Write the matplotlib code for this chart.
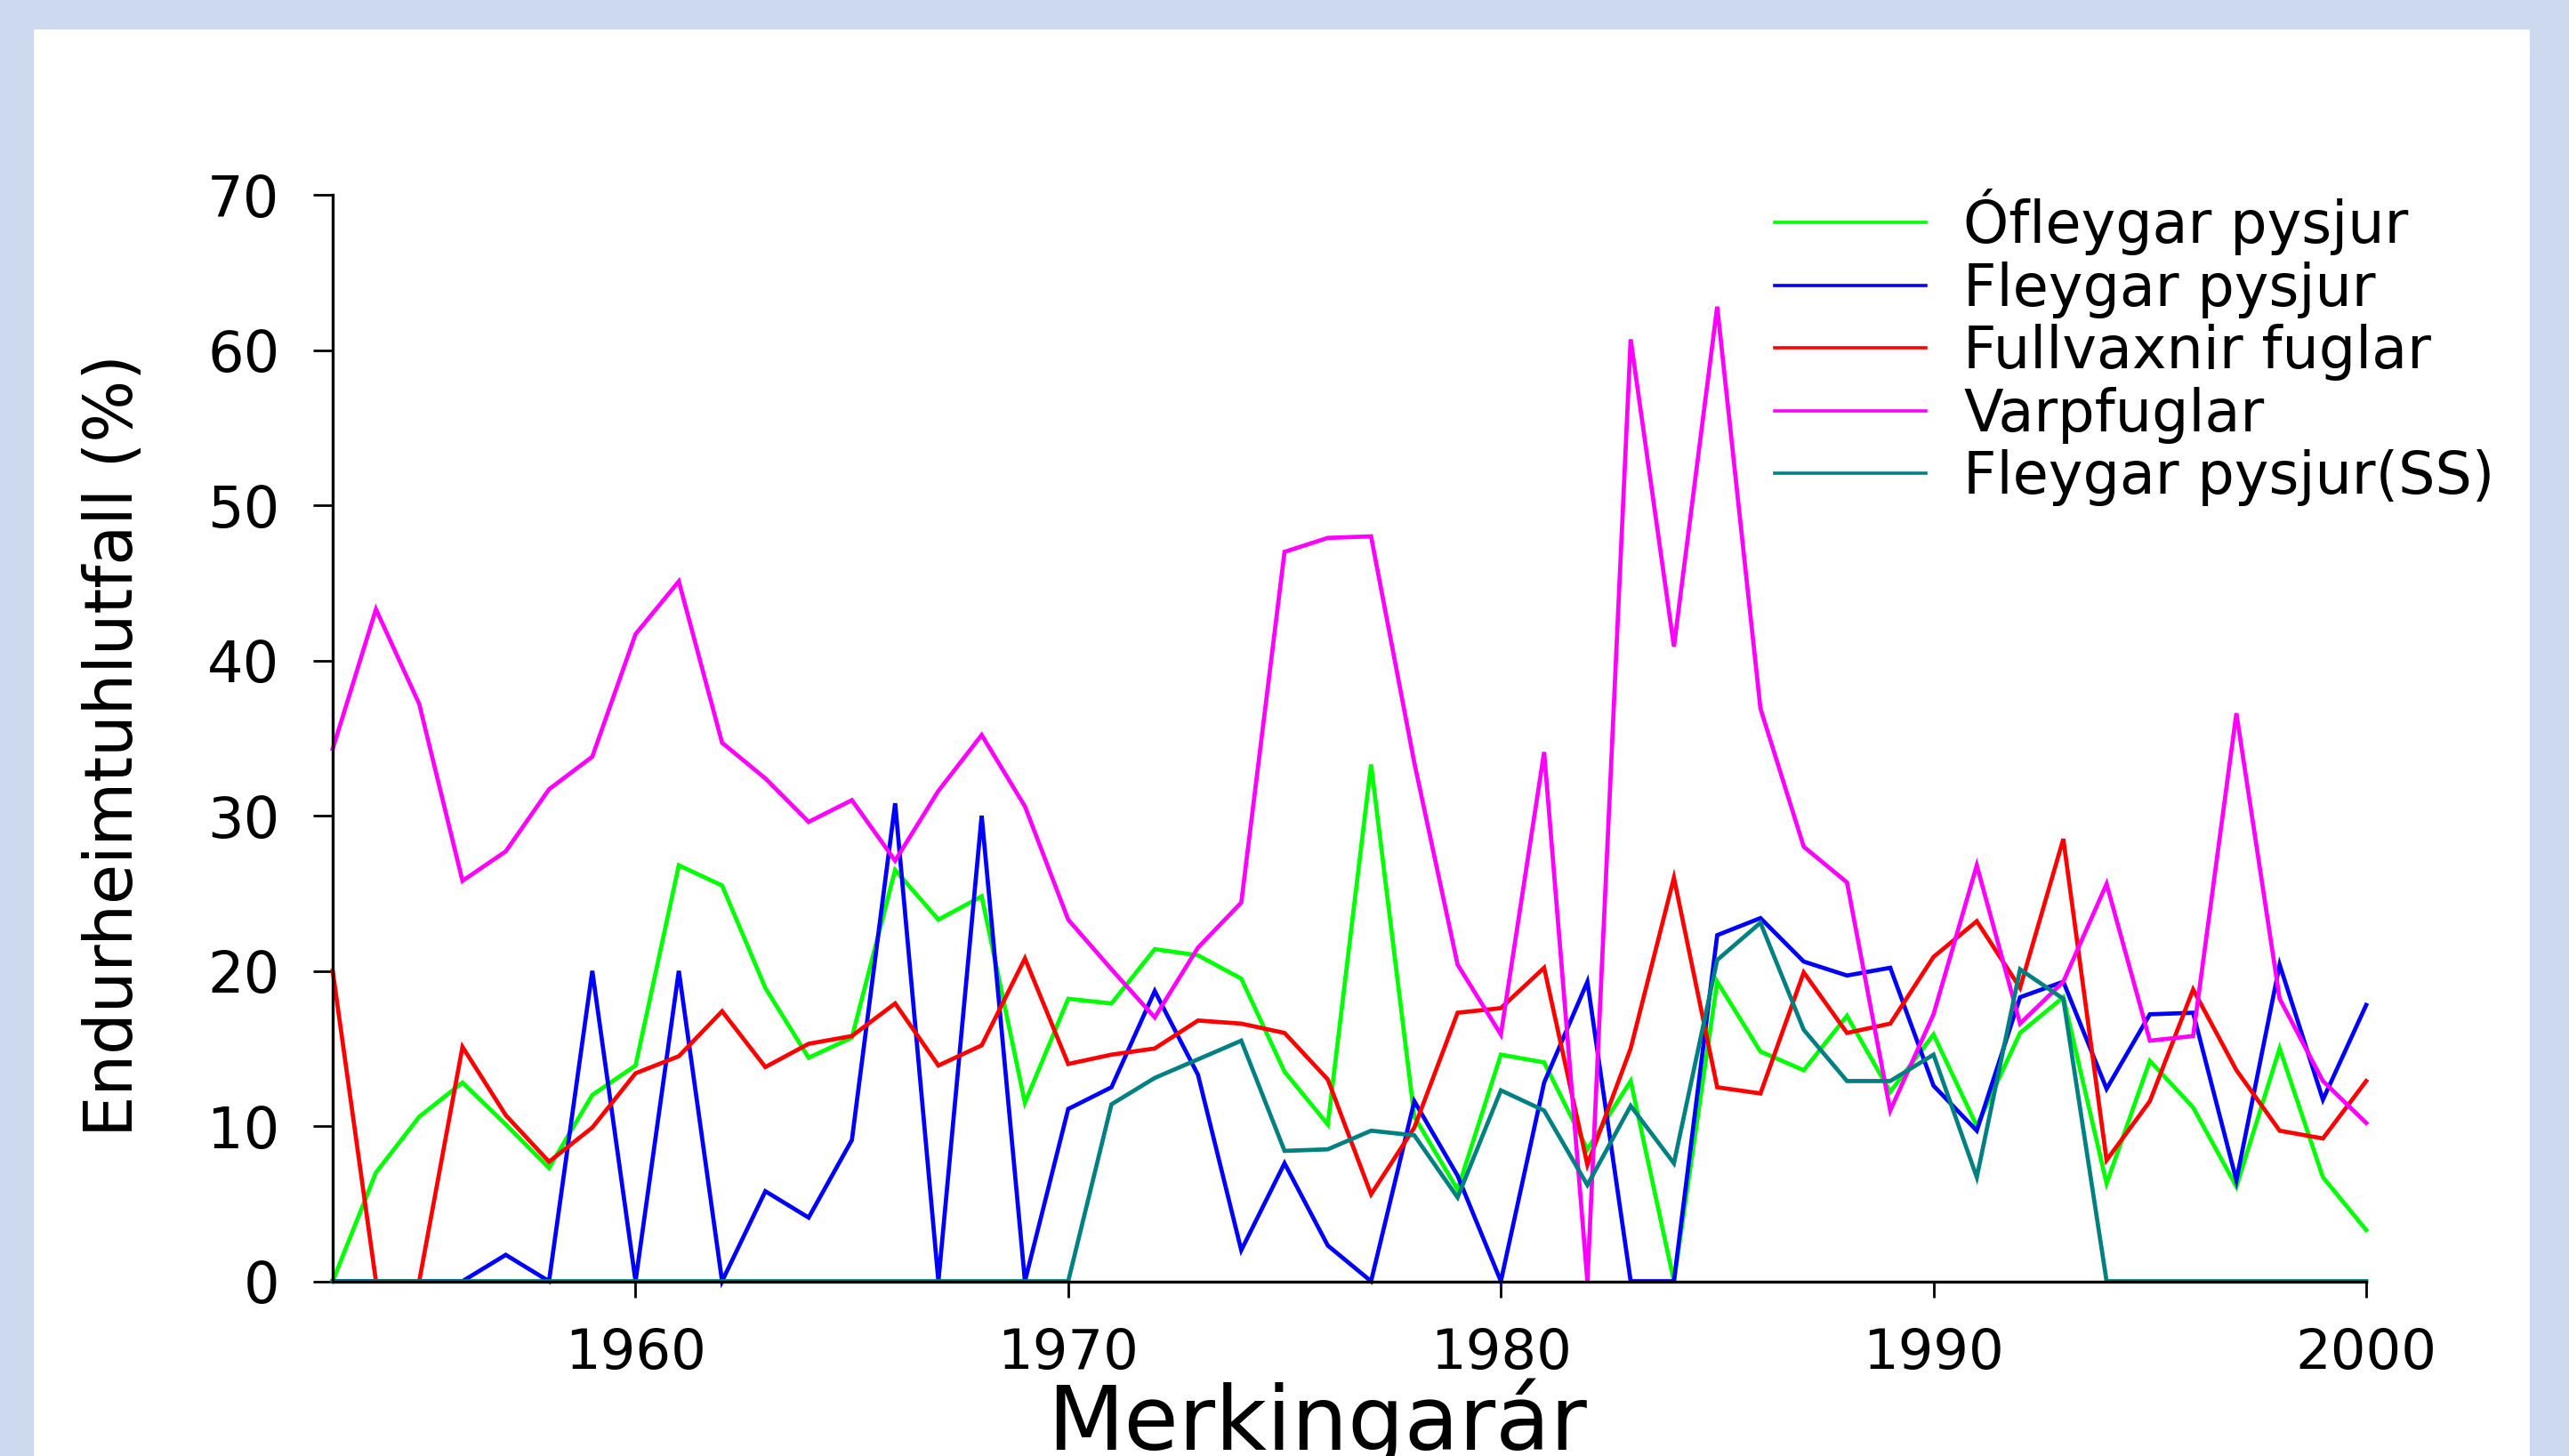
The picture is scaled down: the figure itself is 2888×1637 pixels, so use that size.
import matplotlib
matplotlib.use("Agg")
import matplotlib.pyplot as plt
from matplotlib.patches import Rectangle

years = list(range(1953, 2001))

ofleygar = [0, 7.0, 10.6, 12.8, 10.1, 7.3, 12.0, 13.9, 26.8, 25.5, 18.9, 14.4, 15.7,
            26.5, 23.3, 24.8, 11.5, 18.2, 17.9, 21.4, 21.0, 19.5, 13.5, 10.1, 33.3,
            10.6, 5.9, 14.6, 14.1, 8.5, 12.9, 0, 19.3, 14.8, 13.6, 17.1, 12.2,
            15.9, 10.0, 16.0, 18.3, 6.3, 14.2, 11.2, 6.1, 15.0, 6.7, 3.3]

fleygar = [0, 0, 0, 0, 1.7, 0, 20.0, 0, 20.0, 0, 5.8, 4.1, 9.1,
           30.8, 0, 30.0, 0, 11.1, 12.5, 18.7, 13.3, 2.0, 7.6, 2.3, 0,
           11.6, 6.8, 0, 12.8, 19.3, 0, 0, 22.3, 23.4, 20.6, 19.7, 20.2,
           12.6, 9.7, 18.3, 19.3, 12.4, 17.2, 17.3, 6.5, 20.4, 11.7, 17.8]

fullvaxnir = [20.0, 0, 0, 15.1, 10.7, 7.7, 9.9, 13.4, 14.5, 17.4, 13.8, 15.3, 15.8,
              17.9, 13.9, 15.2, 20.8, 14.0, 14.6, 15.0, 16.8, 16.6, 16.0, 13.0, 5.6,
              9.9, 17.3, 17.6, 20.2, 7.5, 15.0, 26.0, 12.5, 12.1, 19.9, 16.0, 16.6,
              20.9, 23.2, 18.9, 28.5, 7.8, 11.6, 18.8, 13.6, 9.7, 9.2, 12.9]

varpfuglar = [34.3, 43.3, 37.2, 25.8, 27.7, 31.7, 33.8, 41.7, 45.1, 34.7, 32.4, 29.6, 31.0,
              27.1, 31.6, 35.2, 30.6, 23.3, 20.1, 17.0, 21.5, 24.4, 47.0, 47.9, 48.0,
              33.4, 20.4, 15.9, 34.1, 0, 60.7, 40.9, 62.8, 36.9, 28.0, 25.7, 11.0,
              17.2, 26.8, 16.6, 19.3, 25.6, 15.5, 15.8, 36.6, 18.2, 12.9, 10.2]

fleygar_ss = [0, 0, 0, 0, 0, 0, 0, 0, 0, 0, 0, 0, 0, 0, 0, 0, 0, 0,
              11.4, 13.1, 14.3, 15.5, 8.4, 8.5, 9.7,
              9.4, 5.4, 12.3, 11.0, 6.2, 11.3, 7.6, 20.7, 23.1, 16.2, 12.9, 12.9,
              14.6, 6.7, 20.1, 18.2, 0, 0, 0, 0, 0, 0, 0]

labels = ["Ófleygar pysjur", "Fleygar pysjur", "Fullvaxnir fuglar", "Varpfuglar", "Fleygar pysjur(SS)"]
colors = ["#00ff00", "#0000ff", "#ff0000", "#ff00ff", "#008080"]
series = [ofleygar, fleygar, fullvaxnir, varpfuglar, fleygar_ss]

xticks = [1960, 1970, 1980, 1990, 2000]
yticks = [0, 10, 20, 30, 40, 50, 60, 70]

plt.rcParams['font.family'] = ['DejaVu Sans']

W, H = 2888, 1637
fig = plt.figure(figsize=(W / 100, H / 100), dpi=100)
fig.patch.set_facecolor("white")

ax = fig.add_axes([374 / W, 1 - 1440.5 / H, (2660 - 374) / W, (1440.5 - 219.2) / H])
for vals, c, lab in zip(series, colors, labels):
    ax.plot(years, vals, color=c, lw=3.4, label=lab, solid_joinstyle='miter', clip_on=False)

ax.set_xlim(1953, 2000)
ax.set_ylim(0, 70)
ax.set_xticks(xticks)
ax.set_yticks(yticks)
for s in ["top", "right"]:
    ax.spines[s].set_visible(False)
for s in ["left", "bottom"]:
    ax.spines[s].set_linewidth(2.4)
ax.tick_params(axis='y', direction='out', length=16, width=2, pad=27, labelsize=46)
ax.tick_params(axis='x', direction='out', length=13, width=2, pad=24, labelsize=45)

leg = ax.legend(loc='upper left', bbox_to_anchor=(1995 / W, 1 - 212 / H),
                bbox_transform=fig.transFigure, frameon=False, fontsize=47,
                handlelength=2.6, handletextpad=0.65, labelspacing=0.1,
                borderpad=0, borderaxespad=0)
for line in leg.get_lines():
    line.set_linewidth(2.6)

fig.text(129 / W, 0.488, "Endurheimtuhlutfall (%)", rotation=90, ha='center', va='center',
         fontsize=53)
fig.text(1481 / W, 7 / H, "Merkingarár", ha='center', va='baseline', fontsize=72)

bg = "#cdd9ef"
fig.patches.append(Rectangle((0, 0), 37 / W, 1, transform=fig.transFigure, color=bg, zorder=10))
fig.patches.append(Rectangle((2844 / W, 0), 1, 1, transform=fig.transFigure, color=bg, zorder=10))
fig.patches.append(Rectangle((0, 1 - 32 / H), 1, 1, transform=fig.transFigure, color=bg, zorder=10))

fig.savefig("out.png", dpi=100)
